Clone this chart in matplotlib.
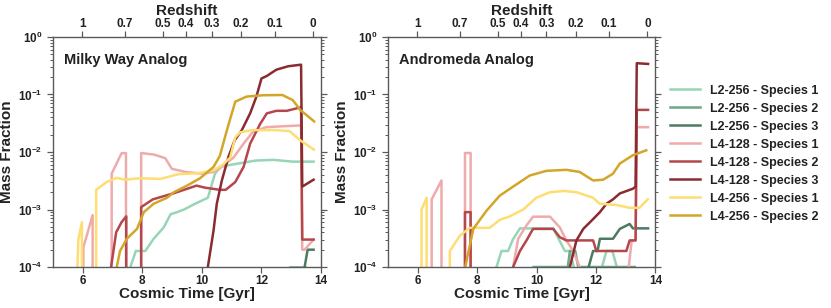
import numpy as np
import matplotlib
matplotlib.use("Agg")
import matplotlib.pyplot as plt

plt.rcParams['font.family'] = ['Liberation Sans', 'DejaVu Sans']
plt.rcParams['font.weight'] = 'bold'
plt.rcParams['mathtext.fontset'] = 'custom'
plt.rcParams['mathtext.rm'] = 'Liberation Sans:bold'
plt.rcParams['mathtext.it'] = 'Liberation Sans:bold'
plt.rcParams['mathtext.bf'] = 'Liberation Sans:bold'

# redshift ticks of the top axis
REDSHIFTS = [1, 0.7, 0.5, 0.4, 0.3, 0.2, 0.1, 0]
REDSHIFT_LABELS = ['1', '0.7', '0.5', '0.4', '0.3', '0.2', '0.1', '0']

LABELS = ['L2-256 - Species 1', 'L2-256 - Species 2', 'L2-256 - Species 3',
          'L4-128 - Species 1', 'L4-128 - Species 2', 'L4-128 - Species 3',
          'L4-256 - Species 1', 'L4-256 - Species 2']
COLORS = ['#98d5b6', '#6ea886', '#4d7b62',
          '#efabab', '#b5464c', '#8a2b30',
          '#fedd72', '#d3a62a']

# ---- Milky Way analog: cosmic time [Gyr] and mass fraction ----
MW_L2_S1_T = [7.6, 7.78, 8.1, 8.38, 8.72, 8.95, 9.17, 9.4, 9.77, 10.2, 10.44, 10.62, 10.9, 11.8, 12.4, 13.05, 13.75]
MW_L2_S1_V = [1e-4, 1.9e-4, 1.9e-4, 3.1e-4, 4.9e-4, 8.3e-4, 9e-4, 1e-3, 1.26e-3, 1.6e-3, 4.2e-3, 5.5e-3, 5.9e-3, 7.1e-3, 7.3e-3, 6.8e-3, 6.8e-3]
MW_L2_S2_T = [12.95, 13.45]
MW_L2_S2_V = [1e-4, 1e-4]
MW_L2_S3_T = [13.45, 13.55, 13.75]
MW_L2_S3_V = [1e-4, 2e-4, 2e-4]

MW_L4128_S1_T = [6.0, 6.02, 6.33, 6.35, 6.95, 6.97, 7.3, 7.45, 7.47, 7.93, 7.96, 8.4, 8.77, 8.99, 9.45, 10.0,
                 10.4, 10.6, 11.06, 11.4, 11.7, 12.15, 12.7, 13.33, 13.37, 13.45, 13.75]
MW_L4128_S1_V = [0, 2.2e-4, 8e-4, 0, 0, 4.2e-3, 9.5e-3, 9.6e-3, 0, 0, 9.6e-3, 9e-3, 7.8e-3, 5.1e-3, 4.5e-3, 4.2e-3,
                 4.5e-3, 5.2e-3, 8e-3, 0.014, 0.022, 0.027, 0.028, 0.029, 2e-4, 2e-4, 3e-4]
MW_L4128_S2_T = [6.95, 7.12, 7.3, 7.46, 7.48, 7.93, 7.96, 8.35, 9.03, 9.82, 10.1, 10.6, 10.8, 11.12, 11.4, 11.62,
                 11.96, 12.18, 12.5, 12.85, 13.33, 13.37, 13.75]
MW_L4128_S2_V = [1e-4, 4e-4, 6e-4, 7.6e-4, 0, 0, 1.1e-3, 1.5e-3, 1.9e-3, 2.6e-3, 2.4e-3, 2.2e-3, 2.2e-3, 3e-3, 5.5e-3, 0.014,
                 0.031, 0.047, 0.052, 0.052, 0.06, 3e-4, 3e-4]
MW_L4128_S3_T = [10.2, 10.39, 10.5, 10.67, 10.89, 11.1, 11.34, 11.62, 11.83, 12.0, 12.18, 12.5, 12.9, 13.33, 13.37, 13.75]
MW_L4128_S3_V = [1e-4, 4.3e-4, 1.26e-3, 3.2e-3, 8.2e-3, 0.016, 0.024, 0.047, 0.092, 0.19, 0.21, 0.27, 0.31, 0.33, 2.5e-3, 3.3e-3]

MW_L4256_S1_T = [5.8, 5.82, 5.85, 5.97, 5.99, 6.43, 6.45, 6.8, 7.14, 7.42, 7.9, 8.6, 9.2, 9.9, 10.4, 10.7, 10.95, 11.12,
                 11.28, 11.7, 12.5, 12.95, 13.3, 13.76]
MW_L4256_S1_V = [0, 1e-4, 3e-4, 6e-4, 0, 0, 2.2e-3, 3e-3, 3.55e-3, 3.3e-3, 3.5e-3, 3.4e-3, 4.1e-3, 4.3e-3, 4.8e-3, 6e-3, 8e-3, 0.018,
                 0.022, 0.024, 0.024, 0.023, 0.016, 0.011]
MW_L4256_S2_T = [7.14, 7.25, 7.48, 7.82, 8.05, 8.38, 8.83, 9.06, 9.5, 9.94, 10.39, 10.6, 10.85, 11.12, 11.5, 12.05, 12.7,
                 13.05, 13.3, 13.77]
MW_L4256_S2_V = [1e-4, 1.9e-4, 3.1e-4, 4.6e-4, 9e-4, 1.26e-3, 1.6e-3, 2e-3, 2.6e-3, 3.5e-3, 5.5e-3, 8.5e-3, 0.025, 0.075, 0.092, 0.097, 0.098,
                 0.08, 0.054, 0.034]

# ---- Andromeda analog ----
AA_L2_S1_T = [8.65, 8.82, 9.04, 9.2, 9.44, 10.56, 10.95, 11.12, 11.25, 11.3, 12.15, 12.2, 12.35, 12.55, 12.7]
AA_L2_S1_V = [1e-4, 1.9e-4, 1.9e-4, 3e-4, 4.7e-4, 4.7e-4, 1.9e-4, 1.9e-4, 1e-4, 0, 0, 1e-4, 1.9e-4, 1.9e-4, 1e-4]
AA_L2_S2_T = [9.9, 11.05, 11.12, 11.3, 11.4, 13.3]
AA_L2_S2_V = [1e-4, 1e-4, 1.9e-4, 1.9e-4, 1e-4, 1e-4]
AA_L2_S3_T = [11.75, 11.9, 12.05, 12.13, 12.57, 12.8, 13.13, 13.24, 13.75]
AA_L2_S3_V = [1e-4, 1.9e-4, 1.9e-4, 3.1e-4, 3.1e-4, 4.6e-4, 5.6e-4, 4.7e-4, 4.7e-4]

AA_L4128_S1_T = [6.45, 6.47, 6.8, 6.82, 7.57, 7.59, 7.78, 7.8, 9.21, 9.38, 9.66, 9.88, 10.45, 10.78, 11.0, 11.23, 11.45,
                 11.5, 13.05, 13.1, 13.2, 13.33, 13.37, 13.75]
AA_L4128_S1_V = [0, 1.5e-3, 3.2e-3, 0, 0, 9.6e-3, 9.6e-3, 0, 1e-4, 3.1e-4, 5.3e-4, 7.5e-4, 7.5e-4, 4.9e-4, 2.9e-4, 1.9e-4, 1e-4,
                 0, 0, 1e-4, 2.9e-4, 2.9e-4, 0.027, 0.027]
AA_L4128_S2_T = [7.57, 7.59, 7.78, 7.8, 9.21, 9.44, 9.66, 9.88, 10.56, 10.78, 11.0, 11.9, 12.01, 13.02, 13.13, 13.33,
                 13.37, 13.75]
AA_L4128_S2_V = [0, 9e-4, 9e-4, 0, 1e-4, 1.9e-4, 2.9e-4, 4.6e-4, 4.6e-4, 3.3e-4, 2.9e-4, 2.9e-4, 1.9e-4, 1.9e-4, 2.9e-4, 2.9e-4,
                 0.054, 0.054]
AA_L4128_S3_T = [11.12, 11.34, 11.57, 11.9, 12.13, 12.35, 12.57, 12.8, 13.24, 13.33, 13.37, 13.75]
AA_L4128_S3_V = [1e-4, 2.9e-4, 4.6e-4, 6.8e-4, 9e-4, 1.26e-3, 1.5e-3, 1.9e-3, 2.3e-3, 2.5e-3, 0.35, 0.34]

AA_L4256_S1_T = [6.1, 6.13, 6.3, 6.32, 7.06, 7.08, 7.42, 7.75, 8.42, 8.76, 9.1, 9.55, 9.99, 10.45, 10.9, 11.34, 11.9,
                 12.12, 12.68, 13.13, 13.46, 13.74]
AA_L4256_S1_V = [0, 1e-3, 1.6e-3, 0, 0, 1.9e-4, 3.5e-4, 4.8e-4, 4.8e-4, 6.6e-4, 7.6e-4, 1e-3, 1.6e-3, 2e-3, 2.1e-3, 2e-3, 1.6e-3,
                 1.26e-3, 1.2e-3, 1.07e-3, 1.07e-3, 1.5e-3]
AA_L4256_S2_T = [7.6, 7.87, 8.32, 8.76, 9.21, 9.77, 10.33, 11.0, 11.45, 11.9, 12.24, 12.57, 12.8, 13.24, 13.69]
AA_L4256_S2_V = [1e-4, 4.6e-4, 9.6e-4, 1.74e-3, 2.5e-3, 3.9e-3, 4.7e-3, 4.9e-3, 4.5e-3, 3.2e-3, 3.3e-3, 4.2e-3, 6.3e-3, 8.8e-3, 0.0107]

MW_SERIES = [(MW_L2_S1_T, MW_L2_S1_V), (MW_L2_S2_T, MW_L2_S2_V), (MW_L2_S3_T, MW_L2_S3_V),
             (MW_L4128_S1_T, MW_L4128_S1_V), (MW_L4128_S2_T, MW_L4128_S2_V), (MW_L4128_S3_T, MW_L4128_S3_V),
             (MW_L4256_S1_T, MW_L4256_S1_V), (MW_L4256_S2_T, MW_L4256_S2_V)]
AA_SERIES = [(AA_L2_S1_T, AA_L2_S1_V), (AA_L2_S2_T, AA_L2_S2_V), (AA_L2_S3_T, AA_L2_S3_V),
             (AA_L4128_S1_T, AA_L4128_S1_V), (AA_L4128_S2_T, AA_L4128_S2_V), (AA_L4128_S3_T, AA_L4128_S3_V),
             (AA_L4256_S1_T, AA_L4256_S1_V), (AA_L4256_S2_T, AA_L4256_S2_V)]

SPINE = '#5a5a5a'
TEXT = '#222222'


def cosmic_time(z, h0=71.0, om=0.266):
    # flat LCDM age of the universe at redshift z, in Gyr
    ol = 1.0 - om
    hubble_time = 977.8 / h0
    x = np.sqrt(ol / om) * (1.0 + np.asarray(z, dtype=float)) ** -1.5
    return hubble_time * 2.0 / (3.0 * np.sqrt(ol)) * np.arcsinh(x)


def style_panel(ax, title):
    ax.set_yscale('log', nonpositive='clip')
    ax.set_xlim(5, 14)
    ax.set_ylim(1e-4, 1)
    ax.set_xticks([6, 8, 10, 12, 14])
    for side in ax.spines.values():
        side.set_color(SPINE)
        side.set_linewidth(1.0)
    ax.tick_params(which='both', direction='out', color=SPINE, labelcolor=TEXT, labelsize=8.5)
    ax.tick_params(which='major', length=4, width=0.9)
    ax.tick_params(which='minor', length=2.5, width=0.7)
    ax.tick_params(axis='y', which='both', right=True)
    ax.tick_params(axis='x', pad=2)
    ax.set_xlabel('Cosmic Time [Gyr]', fontsize=11, fontweight='bold', color=TEXT, labelpad=0)
    ax.set_ylabel('Mass Fraction', fontsize=11, fontweight='bold', color=TEXT, labelpad=3)
    ax.text(0.04, 0.93, title, transform=ax.transAxes, fontsize=10.5, fontweight='bold',
            color=TEXT, ha='left', va='top')

    top = ax.twiny()
    top.set_xlim(ax.get_xlim())
    top.set_xticks(cosmic_time(REDSHIFTS))
    top.set_xticklabels(REDSHIFT_LABELS)
    top.tick_params(direction='out', length=4, width=0.9, color=SPINE, labelcolor=TEXT,
                    labelsize=8.5, pad=1)
    top.xaxis.set_minor_locator(plt.NullLocator())
    for side in top.spines.values():
        side.set_visible(False)
    top.set_xlabel('Redshift', fontsize=11, fontweight='bold', color=TEXT, labelpad=2)


fig = plt.figure(figsize=(8.31, 3.08), dpi=100)
ax_mw = fig.add_axes([0.0638, 0.1331, 0.3225, 0.7468])
ax_aa = fig.add_axes([0.4669, 0.1331, 0.3219, 0.7468])

for ax, series in [(ax_mw, MW_SERIES), (ax_aa, AA_SERIES)]:
    for (t, v), color, label in zip(series, COLORS, LABELS):
        ax.plot(t, v, color=color, lw=1.8, label=label)

style_panel(ax_mw, 'Milky Way Analog')
style_panel(ax_aa, 'Andromeda Analog')

handles, labels = ax_mw.get_legend_handles_labels()
fig.legend(handles, labels, loc='upper left', bbox_to_anchor=(0.793, 0.762), frameon=False,
           handlelength=2.4, handletextpad=0.8, labelspacing=0.48,
           labelcolor=TEXT, prop={'weight': 'bold', 'size': 9})

fig.savefig('out.png', dpi=100)
